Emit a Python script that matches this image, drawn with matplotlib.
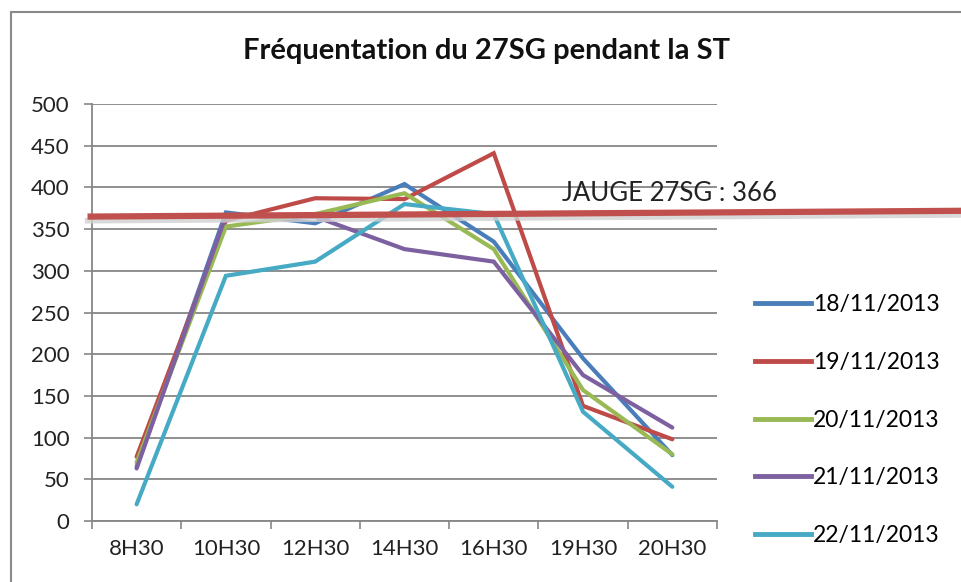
import matplotlib.pyplot as plt
from matplotlib.lines import Line2D
from matplotlib.patches import Rectangle

plt.rcParams['font.family'] = ['Lato', 'DejaVu Sans']

hours = ['8H30', '10H30', '12H30', '14H30', '16H30', '19H30', '20H30']
d18 = [65, 370, 357, 404, 335, 195, 79]
d19 = [77, 360, 387, 386, 441, 138, 98]
d20 = [70, 353, 368, 393, 326, 157, 80]
d21 = [63, 366, 365, 326, 311, 175, 112]
d22 = [20, 294, 311, 380, 368, 131, 41]
labels = ['18/11/2013', '19/11/2013', '20/11/2013', '21/11/2013', '22/11/2013']
colors = ['#4A7EBB', '#BE4B48', '#98B954', '#7D60A0', '#46AAC5']
jauge = 366

fig = plt.figure(figsize=(9.62, 5.82), dpi=100)
ax = fig.add_axes([0.0956, 0.1048, 0.6497, 0.7165])

# outer chart frame
fig.patches.append(Rectangle((11 / 962, -0.1), 1.2, 1 - 12 / 582 + 0.1,
                             transform=fig.transFigure, fill=False,
                             edgecolor='#8a8a8a', linewidth=1.5))

x = range(len(hours))
series = [d18, d19, d20, d21, d22]
for vals, lab, col in zip(series, labels, colors):
    ax.plot(x, vals, color=col, lw=3, label=lab, solid_capstyle='round',
            solid_joinstyle='miter', zorder=3)

ax.set_xlim(-0.5, len(hours) - 0.5)
ax.set_ylim(0, 500)
ax.set_yticks(range(0, 501, 50))
ax.set_xticks(x)
ax.set_xticklabels(hours)
ax.set_xticks([i - 0.5 for i in range(len(hours) + 1)], minor=True)
ax.tick_params(axis='x', which='major', length=0, pad=13, labelsize=16,
               colors='#222222')
ax.tick_params(axis='x', which='minor', length=6, width=1.2, color='#868686',
               direction='out')
ax.tick_params(axis='y', length=6, width=1.2, color='#868686', labelsize=16,
               labelcolor='#222222', pad=10)
ax.grid(axis='y', color='#868686', lw=1.3)
ax.set_axisbelow(True)
for s in ['top', 'right']:
    ax.spines[s].set_visible(False)
for s in ['left', 'bottom']:
    ax.spines[s].set_color('#868686')
    ax.spines[s].set_linewidth(1.3)

# capacity line extending past the plot area
xl = [-0.55, 9.3]
yl = [jauge - 1, jauge + 6]
ax.plot(xl, [v - 5 for v in yl], color='#d0d0d0', lw=4, alpha=0.8,
        clip_on=False, zorder=4)
ax.plot(xl, yl, color='#C0504D', lw=4.5, clip_on=False, zorder=5,
        solid_capstyle='butt')
ax.text(4.76, 384, 'JAUGE 27SG : 366', fontsize=18.5, color='#222222',
        va='baseline', ha='left', zorder=6)

fig.text(0.506, 0.912, 'Fréquentation du 27SG pendant la ST', ha='center',
         va='center', fontsize=21, fontweight='bold', color='#111111')

handles = [Line2D([], [], color=c, lw=3.5) for c in colors]
fig.legend(handles, labels, loc='upper left', bbox_to_anchor=(0.775, 0.51),
           frameon=False, fontsize=16.5, handlelength=2.45, handletextpad=0.1,
           labelspacing=1.6, borderaxespad=0)

fig.savefig('out.png', dpi=100)
plt.close(fig)
